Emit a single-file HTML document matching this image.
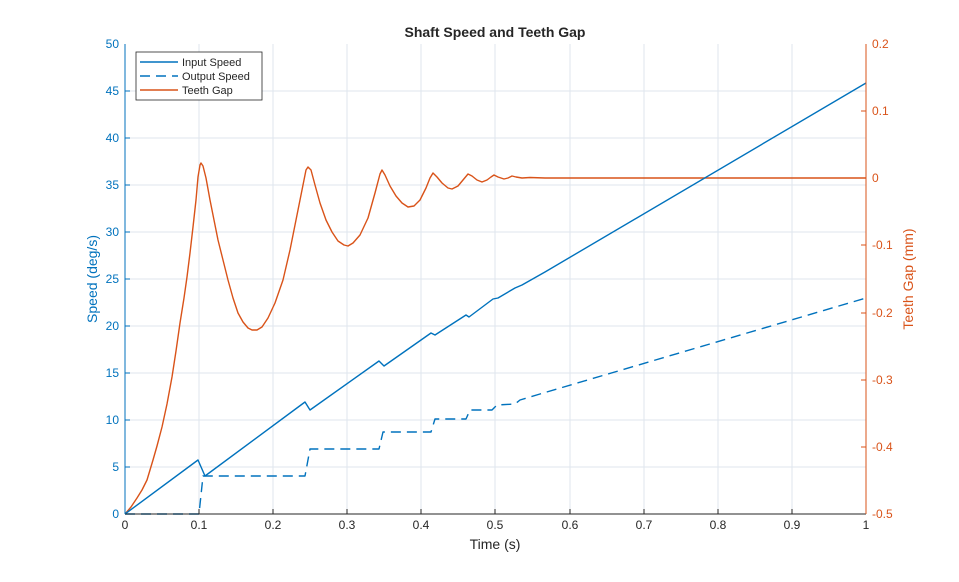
<!DOCTYPE html>
<html><head><style>body{margin:0;background:#fff}svg{font-family:"Liberation Sans",Arial,sans-serif}</style></head>
<body>
<svg width="959" height="577" xmlns="http://www.w3.org/2000/svg">
<rect width="959" height="577" fill="#fff"/>
<g stroke="#dfe6ee" stroke-width="1">
<line x1="199" y1="44" x2="199" y2="514"/><line x1="273" y1="44" x2="273" y2="514"/><line x1="347" y1="44" x2="347" y2="514"/><line x1="421" y1="44" x2="421" y2="514"/><line x1="495" y1="44" x2="495" y2="514"/><line x1="570" y1="44" x2="570" y2="514"/><line x1="644" y1="44" x2="644" y2="514"/><line x1="718" y1="44" x2="718" y2="514"/><line x1="792" y1="44" x2="792" y2="514"/>
<line x1="125" y1="467" x2="866" y2="467"/><line x1="125" y1="420" x2="866" y2="420"/><line x1="125" y1="373" x2="866" y2="373"/><line x1="125" y1="326" x2="866" y2="326"/><line x1="125" y1="279" x2="866" y2="279"/><line x1="125" y1="232" x2="866" y2="232"/><line x1="125" y1="185" x2="866" y2="185"/><line x1="125" y1="138" x2="866" y2="138"/><line x1="125" y1="91" x2="866" y2="91"/>
</g>
<g fill="none" stroke-width="1.4" stroke-linejoin="round">
<polyline stroke="#d95319" points="125,514 131,507 137,498 142,490 147,480 153,460 157,446 162,427 167,404 172,377 176,351 180,323 184,298 187,277 190,253 193,227 196,200 198,177 200,165 201,163 203,166 206,178 210,200 214,220 218,240 223,260 228,280 233,298 238,313 243,322 248,328 252,330 257,330 262,327 268,318 275,303 283,280 290,250 297,215 303,185 306,170 308,167 311,170 315,185 320,203 326,220 332,232 338,241 344,245 348,246 353,243 360,235 368,218 375,193 380,174 382,170 385,175 390,186 396,196 402,203 408,207 414,206 420,200 426,188 430,178 433,173 437,177 442,183 448,188 452,189 458,186 463,180 468,174 472,176 477,180 482,182 487,180 491,177 494,175 498,177 504,179 508,178 512,176 516,177 522,178 530,177.5 545,178 866,178"/>
<polyline stroke="#0072bd" points="125,514 198,460 205,476 305,402 310,410 379,361 384,366 431,333 435,335 466,315 469,317 493,299 498,298 515,288 522,285 545,272 866,83"/>
<polyline stroke="#0072bd" stroke-dasharray="10,6" points="125,514 199,514 203,476 305,476 310,449 379,449 383,432 431,432 435,419 466,419 470,410 492,410 497,405 515,404 520,400 540,394 866,298"/>
</g>
<line x1="125" y1="514" x2="866" y2="514" stroke="#262626"/>
<line x1="125" y1="44" x2="125" y2="514" stroke="#0072bd"/>
<line x1="866" y1="44" x2="866" y2="514" stroke="#d95319"/>
<g stroke="#262626"><line x1="199" y1="514" x2="199" y2="509"/><line x1="273" y1="514" x2="273" y2="509"/><line x1="347" y1="514" x2="347" y2="509"/><line x1="421" y1="514" x2="421" y2="509"/><line x1="495" y1="514" x2="495" y2="509"/><line x1="570" y1="514" x2="570" y2="509"/><line x1="644" y1="514" x2="644" y2="509"/><line x1="718" y1="514" x2="718" y2="509"/><line x1="792" y1="514" x2="792" y2="509"/></g>
<g stroke="#0072bd"><line x1="125" y1="467" x2="130" y2="467"/><line x1="125" y1="420" x2="130" y2="420"/><line x1="125" y1="373" x2="130" y2="373"/><line x1="125" y1="326" x2="130" y2="326"/><line x1="125" y1="279" x2="130" y2="279"/><line x1="125" y1="232" x2="130" y2="232"/><line x1="125" y1="185" x2="130" y2="185"/><line x1="125" y1="138" x2="130" y2="138"/><line x1="125" y1="91" x2="130" y2="91"/></g>
<g stroke="#d95319"><line x1="861" y1="111" x2="866" y2="111"/><line x1="861" y1="178" x2="866" y2="178"/><line x1="861" y1="245" x2="866" y2="245"/><line x1="861" y1="313" x2="866" y2="313"/><line x1="861" y1="380" x2="866" y2="380"/><line x1="861" y1="447" x2="866" y2="447"/></g>
<g font-size="12" fill="#262626" text-anchor="middle">
<text x="125" y="529">0</text><text x="199" y="529">0.1</text><text x="273" y="529">0.2</text><text x="347" y="529">0.3</text><text x="421" y="529">0.4</text><text x="495" y="529">0.5</text><text x="570" y="529">0.6</text><text x="644" y="529">0.7</text><text x="718" y="529">0.8</text><text x="792" y="529">0.9</text><text x="866" y="529">1</text>
</g>
<text x="495" y="549" font-size="14" fill="#262626" text-anchor="middle">Time (s)</text>
<g font-size="12" fill="#0072bd" text-anchor="end">
<text x="119" y="518">0</text><text x="119" y="471">5</text><text x="119" y="424">10</text><text x="119" y="377">15</text><text x="119" y="330">20</text><text x="119" y="283">25</text><text x="119" y="236">30</text><text x="119" y="189">35</text><text x="119" y="142">40</text><text x="119" y="95">45</text><text x="119" y="48">50</text>
</g>
<g font-size="12" fill="#d95319">
<text x="872" y="518">-0.5</text><text x="872" y="451">-0.4</text><text x="872" y="384">-0.3</text><text x="872" y="317">-0.2</text><text x="872" y="249">-0.1</text><text x="872" y="182">0</text><text x="872" y="115">0.1</text><text x="872" y="48">0.2</text>
</g>
<text transform="translate(97,279) rotate(-90)" font-size="14" fill="#0072bd" text-anchor="middle">Speed (deg/s)</text>
<text transform="translate(913,279) rotate(-90)" font-size="14" fill="#d95319" text-anchor="middle">Teeth Gap (mm)</text>
<text x="495" y="37" font-size="14" font-weight="bold" fill="#262626" text-anchor="middle">Shaft Speed and Teeth Gap</text>
<rect x="136" y="52" width="126" height="48" fill="#fff" stroke="#262626" stroke-width="0.8"/>
<g stroke-width="1.5">
<line x1="140" y1="62" x2="178" y2="62" stroke="#0072bd"/>
<line x1="140" y1="76" x2="178" y2="76" stroke="#0072bd" stroke-dasharray="10,6"/>
<line x1="140" y1="90" x2="178" y2="90" stroke="#d95319"/>
</g>
<g font-size="11" fill="#262626"><text x="182" y="66">Input Speed</text><text x="182" y="80">Output Speed</text><text x="182" y="94">Teeth Gap</text></g>
</svg>
</body></html>
